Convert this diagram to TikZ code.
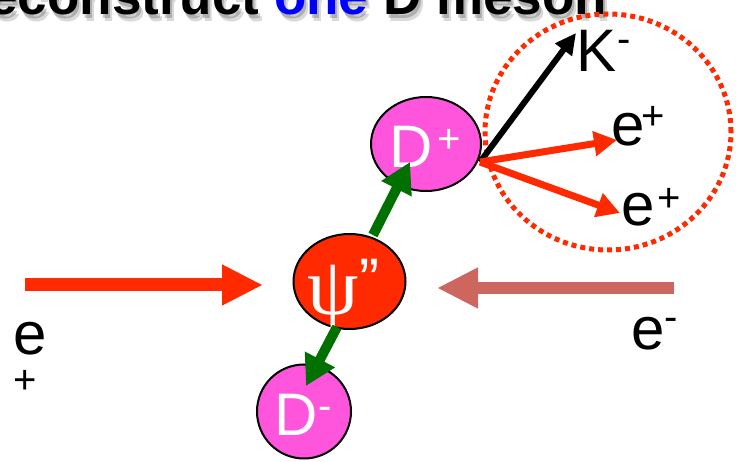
\documentclass[tikz,border=0pt]{standalone}
\usepackage{fontspec}
\setmainfont{Liberation Sans}
\newfontfamily\serifgreek{Liberation Serif}
\usetikzlibrary{arrows.meta,shapes.geometric}
\definecolor{beamred}{RGB}{255,42,0}
\definecolor{beampink}{RGB}{205,102,94}
\definecolor{dgreen}{RGB}{0,112,0}
\definecolor{mesonpink}{RGB}{255,85,221}
\definecolor{titleblue}{RGB}{0,0,255}
\begin{document}
\begin{tikzpicture}[x=1pt,y=-1pt,
  lbl/.style={inner sep=0pt, anchor=base west, font=\fontsize{60}{60}\selectfont},
  suplbl/.style={inner sep=0pt, anchor=base west, font=\fontsize{40}{40}\selectfont},
  titletext/.style={inner sep=0pt, anchor=base west, font=\fontsize{53}{53}\selectfont\bfseries},
  meson/.style={ellipse, draw=black, line width=2pt, inner sep=0pt},
  beam/.style={line width=13pt, -{Triangle[length=41pt,width=38pt]}},
  decayarrow/.style={line width=10pt, draw=dgreen, -{Triangle[length=30pt,width=32pt]}},
  track/.style={line width=7pt, -{Triangle[length=23pt,width=24pt]}}]
\useasboundingbox (0,0) rectangle (736,462);
% title with soft shadow
\foreach \dx/\dy/\op in {4/7/0.15,2/4/0.2}{
  \node[titletext, text=black, opacity=\op] at (-50+\dx,15+\dy) {Reconstruct one D meson};
}
\node[titletext] (title) at (-50,15) {Reconstruct \textcolor{titleblue}{one} D meson};
% beams
\coordinate (lbeamtail) at (25,285);
\coordinate (lbeamtip) at (263,285);
\coordinate (rbeamtail) at (674,288);
\coordinate (rbeamtip) at (437,288);
\draw[beam, draw=beamred] (lbeamtail) -- (lbeamtip);
\draw[beam, draw=beampink, line width=12pt] (rbeamtail) -- (rbeamtip);
% mesons
\node[meson, fill=mesonpink, minimum width=110pt, minimum height=94pt] (dplus) at (426,144) {};
\node[meson, fill=beamred, minimum width=112pt, minimum height=95pt] (psi) at (349.5,281.5) {};
\node[meson, fill=mesonpink, minimum width=94pt, minimum height=94pt] (dminus) at (304,411.5) {};
\node[lbl, text=white] (dplustxt) at (389,168) {D};
\node[suplbl, text=white] (dplussup) at (437,153) {+};
\node[lbl, text=white] (dminustxt) at (274,435) {D};
\node[suplbl, text=white] (dminussup) at (318,419) {-};
\node[inner sep=0pt, text=white, font=\serifgreek\fontsize{82}{82}\selectfont] (psitxt) at (333,298.5) {ψ};
\node[lbl, text=white] (psiquote) at (359,301) {”};
% reconstruction region
\node[ellipse, minimum width=246pt, minimum height=236pt, draw=beamred, line width=5pt, dash pattern=on 5pt off 4pt] (region) at (608,132) {};
% decay arrows
\coordinate (greenup1) at (373,235);
\coordinate (greenup2) at (410,162);
\coordinate (greendn1) at (337,327);
\coordinate (greendn2) at (306,386);
\draw[decayarrow] (greenup1) -- (greenup2);
\draw[decayarrow] (greendn1) -- (greendn2);
\coordinate (vertex) at (480,162);
\coordinate (ktip) at (576,33);
\coordinate (etip1) at (617,140);
\coordinate (etip2) at (620,213);
\draw[line width=6pt, draw=black, -{Triangle[length=21pt,width=20pt]}] (vertex) -- (ktip);
\draw[track, draw=beamred] (vertex) -- (etip1);
\draw[track, draw=beamred] (vertex) -- (etip2);
% labels
\node[lbl] (klbl) at (576,72) {K};
\node[suplbl] (ksup) at (617,53) {-};
\node[lbl] (e1lbl) at (611,146) {e};
\node[suplbl] (e1sup) at (641,130) {+};
\node[lbl] (e2lbl) at (621,226) {e};
\node[suplbl] (e2sup) at (657,212) {+};
\node[lbl] (emlbl) at (631,349) {e};
\node[suplbl] (emsup) at (664,330) {-};
\node[lbl] (eplbl) at (13,354) {e};
\node[suplbl] (epsup) at (13,393) {+};
\end{tikzpicture}
\end{document}
